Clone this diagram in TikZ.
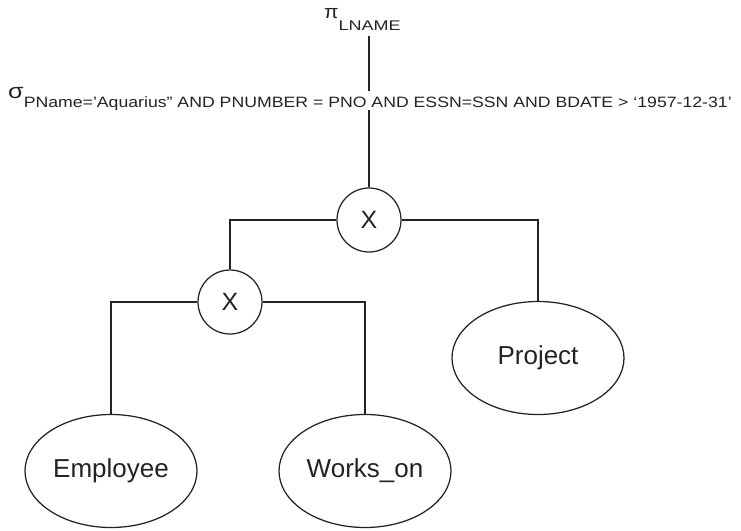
\documentclass[tikz,border=0pt]{standalone}
\usepackage{fontspec}
\setmainfont{Liberation Sans}
\usepackage{graphicx}
\usetikzlibrary{shapes.geometric}
\newcommand{\fsz}[1]{\fontsize{#1}{#1}\selectfont}
\definecolor{ink}{RGB}{35,35,35}
\tikzset{
  conn/.style={draw=ink, line width=1.25pt},
  opnode/.style={circle, draw=ink, line width=1.25pt, minimum size=64pt, inner sep=0pt, font=\fsz{25}, text=ink},
  relnode/.style={ellipse, draw=ink, line width=1.25pt, minimum width=172pt, minimum height=113pt, inner sep=0pt, font=\fsz{26}, text=ink},
  lbl/.style={anchor=base west, inner sep=0pt, text=ink}
}
\begin{document}
\begin{tikzpicture}[x=1pt,y=-1pt]
\useasboundingbox (0,0) rectangle (741,530);
\node[lbl] (pi) at (324,18) {\fsz{19}\scalebox{1.1}[1]{π}\raisebox{-12pt}{\resizebox{62pt}{\height}{\fsz{14}LNAME}}};
\node[lbl] (sigma) at (8,98) {\fsz{21}\scalebox{1.2}[1]{σ}\raisebox{-9pt}{\resizebox{708pt}{\height}{\fsz{15}PName='Aquarius” AND PNUMBER = PNO AND ESSN=SSN AND BDATE > ‘1957-12-31’}}};
\node[opnode] (x1) at (369,220) {X};
\node[opnode] (x2) at (230,302) {X};
\node[relnode] (proj) at (538,358) {Project};
\node[relnode] (emp) at (111,471) {Employee};
\node[relnode] (works) at (365,471) {Works\_on};
\draw[conn] ([yshift=-6pt]pi.south -| x1) -- ([yshift=-4pt]sigma.north -| x1);
\draw[conn] (sigma.south -| x1) -- (x1.north);
\draw[conn] (x1.west) -| (x2.north);
\draw[conn] (x1.east) -| (proj.north);
\draw[conn] (x2.west) -| (emp.north);
\draw[conn] (x2.east) -| (works.north);
\end{tikzpicture}
\end{document}
